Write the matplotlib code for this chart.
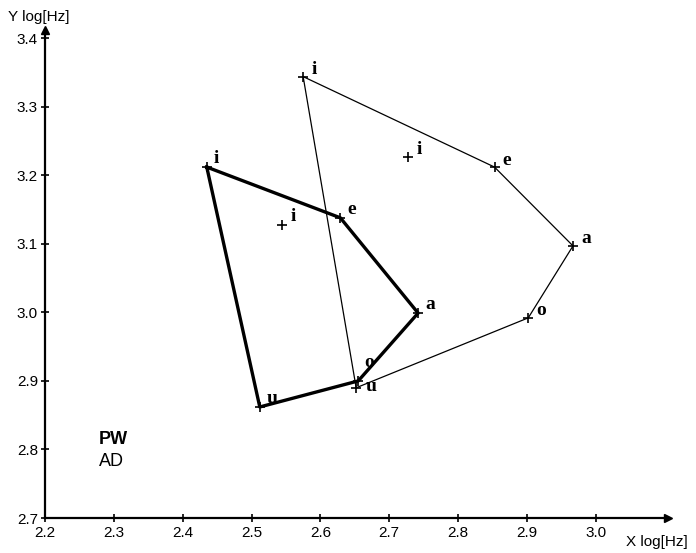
import matplotlib
matplotlib.use("Agg")
import matplotlib.pyplot as plt

# vowel chart values (log Hz)
vowels = ['i', 'e', 'a', 'o', 'u']

# speaker PW (thick polygon)
pw_x = [2.435, 2.629, 2.742, 2.655, 2.512]
pw_y = [3.212, 3.138, 2.999, 2.900, 2.862]

# speaker AD (thin polygon)
ad_x = [2.575, 2.853, 2.967, 2.902, 2.652]
ad_y = [3.344, 3.212, 3.097, 2.992, 2.890]

# loose "i" crosses
extra_labels = ['i', 'i']
extra_x = [2.544, 2.728]
extra_y = [3.128, 3.226]

x_ticks = [2.2, 2.3, 2.4, 2.5, 2.6, 2.7, 2.8, 2.9, 3.0]
y_ticks = [2.7, 2.8, 2.9, 3.0, 3.1, 3.2, 3.3, 3.4]

plt.rcParams['font.family'] = ['Liberation Sans', 'DejaVu Sans']

W, H = 696, 553
fig = plt.figure(figsize=(W / 100, H / 100), dpi=100)
ax = fig.add_axes([45 / W, 35 / H, (668 - 45) / W, (518 - 30) / H])
ax.set_xlim(2.2, 3.105)
ax.set_ylim(2.7, 3.412)


def closed(v):
    return list(v) + [v[0]]


# polygons
ax.plot(closed(ad_x), closed(ad_y), color='black', lw=0.9)
ax.plot(closed(pw_x), closed(pw_y), color='black', lw=2.4)
ax.plot(ad_x, ad_y, '+', color='black', ms=7, mew=1.2)
ax.plot(pw_x, pw_y, '+', color='black', ms=7, mew=1.2)
ax.plot(extra_x, extra_y, '+', color='black', ms=7, mew=1.2)

# vowel labels
lab_kw = dict(family='Liberation Serif', weight='bold', fontsize=14,
              ha='left', va='center', textcoords='offset points')
for v, x, y in zip(vowels, pw_x, pw_y):
    # the PW "o" sits right on top of AD "u", lift it a bit
    off = (4, 13) if v == 'o' else (5, 6)
    ax.annotate(v, (x, y), xytext=off, **lab_kw)
for v, x, y in zip(vowels, ad_x, ad_y):
    off = (7, 1) if v == 'u' else (6, 5)
    ax.annotate(v, (x, y), xytext=off, **lab_kw)
for v, x, y in zip(extra_labels, extra_x, extra_y):
    ax.annotate(v, (x, y), xytext=(6, 6), **lab_kw)

# axes styling
for s in ['top', 'right']:
    ax.spines[s].set_visible(False)
for s in ['left', 'bottom']:
    ax.spines[s].set_linewidth(1.6)
ax.set_xticks(x_ticks)
ax.set_xticklabels([f'{t:.1f}' for t in x_ticks])
ax.set_yticks(y_ticks)
ax.set_yticklabels([f'{t:.1f}' for t in y_ticks])
ax.tick_params(direction='inout', length=6, width=1.2, labelsize=11)
ax.tick_params(axis='x', pad=3)
ax.tick_params(axis='y', pad=2)
ax.plot(1, 0, '>', color='black', ms=6, transform=ax.transAxes, clip_on=False)
ax.plot(0, 1, '^', color='black', ms=6, transform=ax.transAxes, clip_on=False)

fig.text(8 / W, 1 - 17 / H, 'Y log[Hz]', fontsize=11, va='center', ha='left')
fig.text(626 / W, 1 - 542 / H, 'X log[Hz]', fontsize=11, va='center', ha='left')

ax.text(2.278, 2.815, 'PW', fontsize=13, weight='bold', va='center')
ax.text(2.278, 2.782, 'AD', fontsize=13, va='center')

fig.savefig('out.png', dpi=100)
